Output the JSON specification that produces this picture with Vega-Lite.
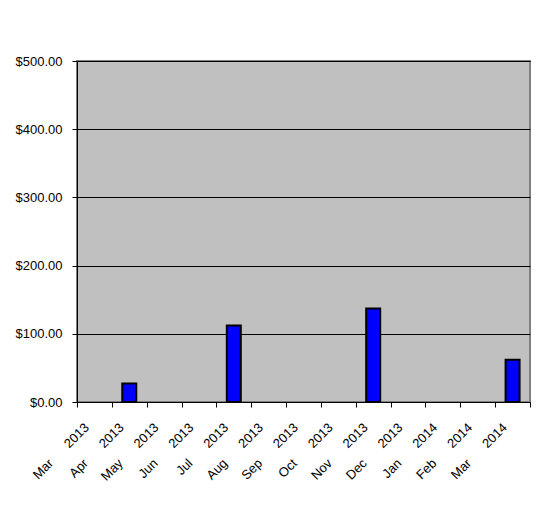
{
  "$schema": "https://vega.github.io/schema/vega-lite/v6.json",
  "width": 453,
  "height": 341,
  "autosize": "none",
  "padding": {"left": 77, "top": 61, "right": 8, "bottom": 106},
  "background": "white",
  "config": {
    "view": {"fill": "#C0C0C0", "stroke": "#808080", "strokeWidth": 2},
    "font": "Liberation Sans",
    "axis": {"labelFont": "Liberation Sans", "labelColor": "black", "labelFontSize": 13, "domainColor": "black", "tickColor": "black", "gridColor": "black", "gridOpacity": 1}
  },
  "data": {
    "values": [
      {"month": "Mar 2013", "amount": 0},
      {"month": "Apr 2013", "amount": 27},
      {"month": "May 2013", "amount": 0},
      {"month": "Jun 2013", "amount": 0},
      {"month": "Jul 2013", "amount": 112},
      {"month": "Aug 2013", "amount": 0},
      {"month": "Sep 2013", "amount": 0},
      {"month": "Oct 2013", "amount": 0},
      {"month": "Nov 2013", "amount": 137},
      {"month": "Dec 2013", "amount": 0},
      {"month": "Jan 2014", "amount": 0},
      {"month": "Feb 2014", "amount": 0},
      {"month": "Mar 2014", "amount": 62}
    ]
  },
  "transform": [{"filter": "datum.amount > 0"}],
  "mark": {"type": "bar", "fill": "#0000FF", "stroke": "black", "strokeWidth": 2, "width": 14},
  "encoding": {
    "x": {
      "field": "month",
      "type": "nominal",
      "sort": null,
      "scale": {
        "domain": ["Mar 2013", "Apr 2013", "May 2013", "Jun 2013", "Jul 2013", "Aug 2013", "Sep 2013", "Oct 2013", "Nov 2013", "Dec 2013", "Jan 2014", "Feb 2014", "Mar 2014"],
        "paddingInner": 0,
        "paddingOuter": 0
      },
      "axis": {
        "title": null,
        "tickBand": "extent",
        "tickSize": 5,
        "labelAngle": -45,
        "labelAlign": "right",
        "labelBaseline": "middle",
        "labelOffset": -8,
        "labelPadding": 18,
        "labelExpr": "replace(datum.label, ' ', '\u00a0\u00a0\u00a0\u00a0\u00a0\u00a0')",
        "grid": false
      }
    },
    "y": {
      "field": "amount",
      "type": "quantitative",
      "scale": {"domain": [0, 500], "nice": false},
      "axis": {
        "title": null,
        "values": [0, 100, 200, 300, 400, 500],
        "format": "$.2f",
        "tickSize": 5,
        "labelPadding": 10,
        "grid": true,
        "gridWidth": 1
      }
    }
  }
}
